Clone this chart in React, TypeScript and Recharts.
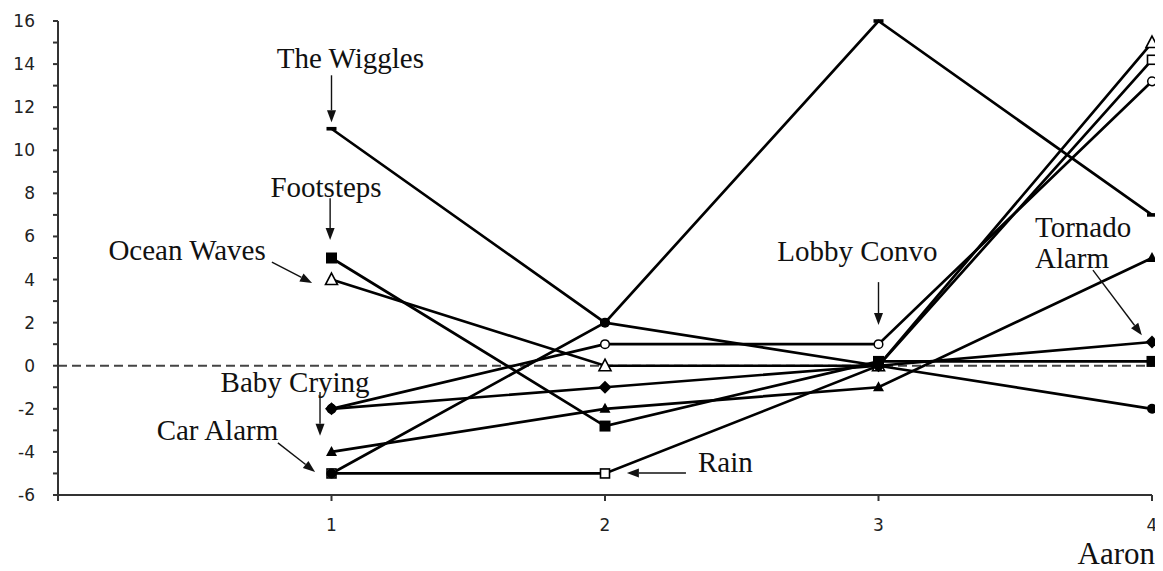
import React from 'react';
import { LineChart, Line, XAxis, YAxis, ReferenceLine, ReferenceDot } from 'recharts';

// ---- data ----
const categories = [1, 2, 3, 4];
const wiggles = [11, 2, 16, 7];
const footsteps = [5, -2.8, 0.2, 0.2];
const oceanWaves = [4, 0, 0, 15];
const babyCrying = [-4, -2, -1, 5];
const carAlarm = [-5, 2, 0, -2];
const rain = [-5, -5, 0, 14.2];
const lobbyConvo = [-2, 1, 1, 13.2];
const tornadoAlarm = [-2, -1, 0, 1.1];

const yTicks = [-6, -5, -4, -3, -2, -1, 0, 1, 2, 3, 4, 5, 6, 7, 8, 9, 10, 11, 12, 13, 14, 15, 16];
const xTicks = [0, 1, 2, 3, 4];
const xAxisTitle = 'Aaron';

const seriesList = [
  { key: 'rain', values: rain, marker: 'openSquare' },
  { key: 'oceanWaves', values: oceanWaves, marker: 'openTriangle' },
  { key: 'lobbyConvo', values: lobbyConvo, marker: 'openCircle' },
  { key: 'wiggles', values: wiggles, marker: 'dash' },
  { key: 'footsteps', values: footsteps, marker: 'filledSquare' },
  { key: 'babyCrying', values: babyCrying, marker: 'filledTriangle' },
  { key: 'carAlarm', values: carAlarm, marker: 'filledCircle' },
  { key: 'tornadoAlarm', values: tornadoAlarm, marker: 'diamond' },
];

// annotation labels (data coordinates)
const labelTexts = [
  { text: 'The Wiggles', x: 1.069, y: 13.81, anchor: 'middle' },
  { text: 'Footsteps', x: 0.98, y: 7.82, anchor: 'middle' },
  { text: 'Ocean Waves', x: 0.472, y: 4.9, anchor: 'middle' },
  { text: 'Baby Crying', x: 0.867, y: -1.22, anchor: 'middle' },
  { text: 'Car Alarm', x: 0.583, y: -3.45, anchor: 'middle' },
  { text: 'Rain', x: 2.44, y: -4.92, anchor: 'middle' },
  { text: 'Lobby Convo', x: 2.923, y: 4.85, anchor: 'middle' },
  { text: 'Tornado', x: 3.572, y: 5.97, anchor: 'start' },
  { text: 'Alarm', x: 3.572, y: 4.53, anchor: 'start' },
];

const arrows = [
  { x1: 1.0, y1: 13.48, x2: 1.0, y2: 11.3 },
  { x1: 0.995, y1: 7.77, x2: 0.995, y2: 5.83 },
  { x1: 0.782, y1: 4.81, x2: 0.929, y2: 3.84 },
  { x1: 0.958, y1: -1.22, x2: 0.958, y2: -3.25 },
  { x1: 0.804, y1: -3.58, x2: 0.94, y2: -4.93 },
  { x1: 2.296, y1: -4.98, x2: 2.08, y2: -4.98 },
  { x1: 3.0, y1: 3.88, x2: 3.0, y2: 1.89 },
  { x1: 3.784, y1: 4.44, x2: 3.963, y2: 1.42 },
];

const data = categories.map((x, i) => {
  const row: any = { x };
  seriesList.forEach((s) => {
    row[s.key] = s.values[i];
  });
  return row;
});

const renderMarker = (kind: string) => (p: any) => {
  const { cx, cy, index } = p;
  const k = `${kind}-${index}`;
  if (cx == null || cy == null) return <g key={k} />;
  switch (kind) {
    case 'dash':
      return <rect key={k} x={cx - 5} y={cy - 1.8} width={10} height={3.6} fill="#000" />;
    case 'filledSquare':
      return <rect key={k} x={cx - 5.5} y={cy - 5.5} width={11} height={11} fill="#000" />;
    case 'openSquare':
      return <rect key={k} x={cx - 4.5} y={cy - 4.5} width={9} height={9} fill="#fff" stroke="#000" strokeWidth={1.6} />;
    case 'openTriangle':
      return (
        <polygon key={k} points={`${cx},${cy - 6.5} ${cx + 6},${cy + 5} ${cx - 6},${cy + 5}`} fill="#fff" stroke="#000" strokeWidth={1.6} />
      );
    case 'filledTriangle':
      return <polygon key={k} points={`${cx},${cy - 6} ${cx + 5.5},${cy + 4} ${cx - 5.5},${cy + 4}`} fill="#000" />;
    case 'openCircle':
      return <circle key={k} cx={cx} cy={cy} r={4.3} fill="#fff" stroke="#000" strokeWidth={1.5} />;
    case 'filledCircle':
      return <circle key={k} cx={cx} cy={cy} r={5} fill="#000" />;
    case 'diamond':
      return <polygon key={k} points={`${cx},${cy - 6.5} ${cx + 6.5},${cy} ${cx},${cy + 6.5} ${cx - 6.5},${cy}`} fill="#000" />;
    default:
      return <g key={k} />;
  }
};

const ArrowShape = (p: any) => {
  const { x1, y1, x2, y2 } = p;
  if ([x1, y1, x2, y2].some((v) => v == null || isNaN(v))) return <g />;
  const dx = x2 - x1;
  const dy = y2 - y1;
  const len = Math.sqrt(dx * dx + dy * dy) || 1;
  const ux = dx / len;
  const uy = dy / len;
  const hl = 12;
  const hw = 4.5;
  const bx = x2 - ux * hl;
  const by = y2 - uy * hl;
  const px = -uy;
  const py = ux;
  return (
    <g>
      <line x1={x1} y1={y1} x2={bx} y2={by} stroke="#111" strokeWidth={1.4} />
      <polygon points={`${x2},${y2} ${bx + px * hw},${by + py * hw} ${bx - px * hw},${by - py * hw}`} fill="#111" />
    </g>
  );
};

const makeTextShape = (text: string, anchor: string) => (p: any) => (
  <text
    x={p.cx}
    y={p.cy}
    textAnchor={anchor as any}
    fontFamily="'Liberation Serif', 'Times New Roman', serif"
    fontSize={29}
    fill="#111"
  >
    {text}
  </text>
);

export default function App() {
  return (
    <div style={{ width: 1155, height: 563, background: '#fff' }}>
      <LineChart
        width={1155}
        height={563}
        data={data}
        margin={{ top: 13, right: 11, bottom: 10, left: 0 }}
      >
        <XAxis
          dataKey="x"
          type="number"
          domain={[0, 4]}
          ticks={xTicks}
          tickFormatter={(v: number) => (v === 0 ? '' : String(v))}
          height={66}
          tickSize={6}
          tickMargin={18}
          stroke="#333"
          strokeWidth={2}
          tick={{ fill: '#222', fontSize: 17, fontFamily: "'DejaVu Sans', sans-serif" }}
          label={{
            value: xAxisTitle,
            position: 'insideBottomRight',
            offset: -3,
            fill: '#111',
            fontSize: 31,
            fontFamily: "'Liberation Serif', 'Times New Roman', serif",
          }}
        />
        <YAxis
          type="number"
          domain={[-6, 16]}
          ticks={yTicks}
          interval={0}
          width={50}
          tickSize={5}
          tickMargin={18}
          stroke="#333"
          strokeWidth={2}
          tickFormatter={(v: number) => (v % 2 === 0 ? String(v) : '')}
          tick={{ fill: '#222', fontSize: 17, fontFamily: "'DejaVu Sans', sans-serif" }}
        />
        <ReferenceLine y={0} stroke="#444" strokeWidth={2} strokeDasharray="9 5" />
        {seriesList.map((s) => (
          <Line
            key={s.key}
            dataKey={s.key}
            type="linear"
            stroke="#000"
            strokeWidth={2.7}
            dot={renderMarker(s.marker)}
            activeDot={false}
            isAnimationActive={false}
          />
        ))}
        {arrows.map((a, i) => (
          <ReferenceLine
            key={`arrow-${i}`}
            segment={[
              { x: a.x1, y: a.y1 },
              { x: a.x2, y: a.y2 },
            ]}
            shape={ArrowShape}
          />
        ))}
        {labelTexts.map((t, i) => (
          <ReferenceDot
            key={`lbl-${i}`}
            x={t.x}
            y={t.y}
            r={0}
            shape={makeTextShape(t.text, t.anchor)}
          />
        ))}
      </LineChart>
    </div>
  );
}
